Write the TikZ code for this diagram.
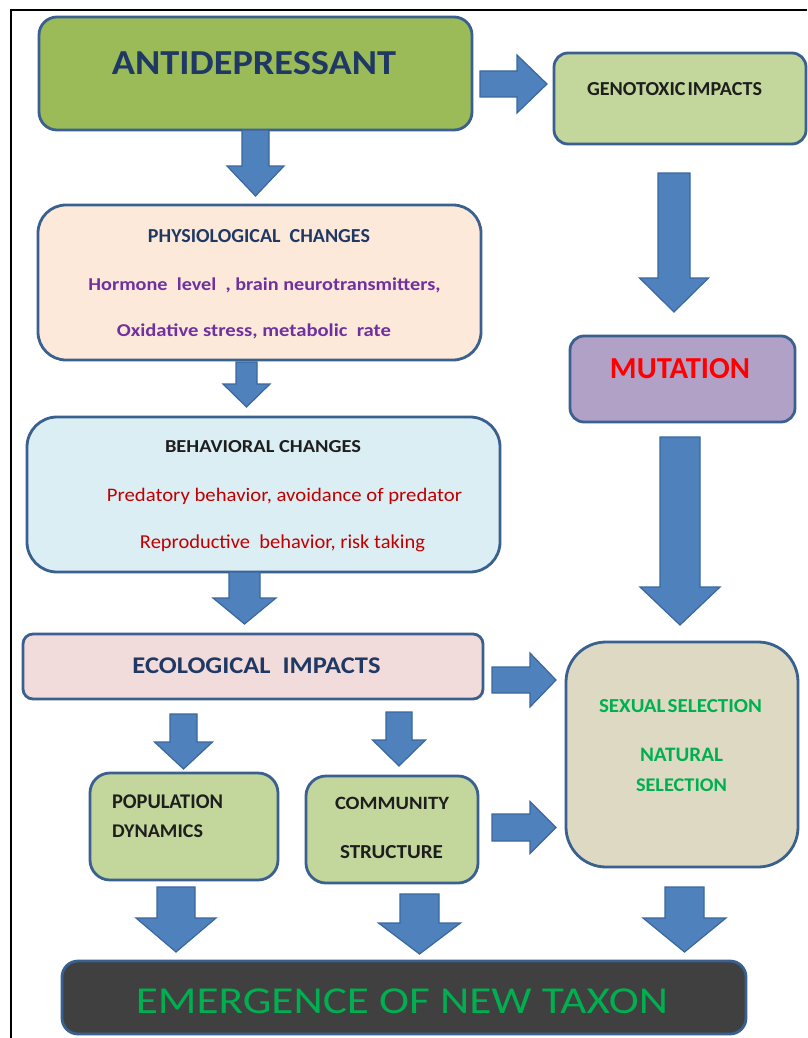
\documentclass[tikz,border=0pt]{standalone}
\usepackage{fontspec}
\setmainfont{Carlito}
\usepackage{graphicx}
\definecolor{bordc}{HTML}{3A6090}
\definecolor{arrf}{HTML}{4F81BD}
\definecolor{arrd}{HTML}{3A689E}
\definecolor{navy}{HTML}{1F3864}
\definecolor{purp}{HTML}{7030A0}
\definecolor{dred}{HTML}{C00000}
\definecolor{bred}{HTML}{FF0000}
\definecolor{grn}{HTML}{00B050}
\definecolor{blk}{HTML}{1E1E1E}
\definecolor{cAnti}{HTML}{9BBB59}
\definecolor{cGeno}{HTML}{C3D69B}
\definecolor{cPhys}{HTML}{FDE9D9}
\definecolor{cBeh}{HTML}{DBEEF4}
\definecolor{cEco}{HTML}{F2DCDB}
\definecolor{cMut}{HTML}{B2A1C7}
\definecolor{cSel}{HTML}{DDD9C3}
\definecolor{cEmer}{HTML}{404040}
\newcommand\RB[3]{\resizebox{#1pt}{#2pt}{#3}}
\newcommand\varrow[6]{%
  \filldraw[arrowst] ({#1-#2},#4) -- ({#1+#2},#4) -- ({#1+#2},#5) -- ({#1+#3},#5)
    -- (#1,#6) -- ({#1-#3},#5) -- ({#1-#2},#5) -- cycle;}
\newcommand\harrow[6]{%
  \filldraw[arrowst] (#4,{#1-#2}) -- (#4,{#1+#2}) -- (#5,{#1+#2}) -- (#5,{#1+#3})
    -- (#6,#1) -- (#5,{#1-#3}) -- (#5,{#1-#2}) -- cycle;}
\newcommand\bx[7]{% name, x1,y1,x2,y2, fill, radius
  \node[boxst, fill=#6, rounded corners=#7pt,
    minimum width={(#4-#2)*1pt}, minimum height={(#5-#3)*1pt}]
    (#1) at ({(#2+#4)/2},{(#3+#5)/2}) {};}
\begin{document}
\begin{tikzpicture}[x=1pt,y=-1pt,
  boxst/.style={draw=bordc, line width=2.8pt, inner sep=0pt, outer sep=0pt},
  arrowst/.style={fill=arrf, draw=arrd, line width=1.2pt, line join=miter},
  lbl/.style={inner sep=0pt, outer sep=0pt, anchor=base}]
\useasboundingbox (0,0) rectangle (807,1038);
\fill[white] (0,0) rectangle (807,1038);
\draw[line width=1.3pt] (11,1038) -- (11,10) -- (807,10);
% boxes
\bx{anti}{39}{17}{472}{130}{cAnti}{18}
\bx{geno}{554}{53}{806}{144}{cGeno}{14}
\bx{phys}{38}{205}{481}{360}{cPhys}{28}
\bx{beh}{27}{417}{500}{572}{cBeh}{30}
\bx{mut}{570}{336}{795}{422}{cMut}{14}
\bx{eco}{23}{634}{483}{699}{cEco}{10}
\bx{sel}{566}{642}{798}{867}{cSel}{40}
\bx{pop}{90}{773}{278}{880}{cGeno}{20}
\bx{comm}{306}{776}{478}{883}{cGeno}{20}
\bx{emer}{62}{961}{746}{1034}{cEmer}{16}
% arrows
\varrow{255.5}{13.5}{28.5}{130}{166}{196}
\varrow{246.5}{10.5}{23.5}{362}{384}{407}
\varrow{244.5}{15.5}{31.5}{572}{598}{624}
\varrow{674}{16}{34.5}{173}{278}{312}
\varrow{680}{20}{40}{437}{587}{625}
\varrow{183.5}{13.5}{29}{714}{742}{769}
\varrow{399}{13}{26.5}{712}{740}{766}
\varrow{176}{19}{40}{887}{918}{952}
\varrow{419.5}{19.5}{41}{894}{923}{954}
\varrow{684.5}{19.5}{41.5}{887}{918}{952}
\harrow{84}{13}{29}{480}{517}{547}
\harrow{680}{13}{27}{492}{530}{556}
\harrow{827.5}{13.5}{26}{492}{530}{556}
% texts
\node[lbl, text=navy] (tAnti) at (254,75) {\RB{284}{23}{\bfseries ANTIDEPRESSANT}};
\node[lbl, text=blk] (tGeno) at (674.5,96) {\RB{175}{13}{\bfseries GENOTOXIC\hspace{0.1em}IMPACTS}};
\node[lbl, text=navy] (tPhys) at (259,242) {\RB{222}{13}{\bfseries PHYSIOLOGICAL\ \ CHANGES}};
\node[lbl, text=purp] (tPh1) at (264.5,290) {\RB{352}{12.7}{\bfseries Hormone\ \ level\ \ , brain neurotransmitters,}};
\node[lbl, text=purp] (tPh2) at (254,336) {\RB{274}{12.7}{\bfseries Oxidative stress, metabolic\ \ rate}};
\node[lbl, text=blk] (tBeh) at (263,452) {\RB{196}{12}{\bfseries BEHAVIORAL CHANGES}};
\node[lbl, text=dred] (tBe1) at (284.5,501) {\RB{355}{13.3}{Predatory behavior, avoidance of predator}};
\node[lbl, text=dred] (tBe2) at (282.5,548) {\RB{285}{13.7}{Reproductive\ \ behavior, risk taking}};
\node[lbl, text=bred] (tMut) at (680,378) {\RB{140}{20}{\bfseries MUTATION}};
\node[lbl, text=navy] (tEco) at (256.5,673) {\RB{248}{15.7}{\bfseries ECOLOGICAL\ \ IMPACTS}};
\node[lbl, text=grn] (tSel1) at (680.5,712) {\RB{163}{13}{\bfseries SEXUAL\hspace{0.1em}SELECTION}};
\node[lbl, text=grn] (tSel2) at (681.5,761) {\RB{83}{13.3}{\bfseries NATURAL}};
\node[lbl, text=grn] (tSel3) at (681.5,791) {\RB{91}{12.7}{\bfseries SELECTION}};
\node[lbl, text=blk, anchor=base west] (tPop1) at (112,808) {\RB{111}{13.7}{\bfseries POPULATION}};
\node[lbl, text=blk, anchor=base west] (tPop2) at (112,837) {\RB{91}{12.7}{\bfseries DYNAMICS}};
\node[lbl, text=blk] (tCom1) at (392,809) {\RB{114}{12.3}{\bfseries COMMUNITY}};
\node[lbl, text=blk] (tCom2) at (391.5,858) {\RB{103}{13}{\bfseries STRUCTURE}};
\node[lbl, text=grn] (tEmer) at (402,1013) {\RB{532}{24.7}{EMERGENCE OF NEW TAXON}};
\end{tikzpicture}
\end{document}
